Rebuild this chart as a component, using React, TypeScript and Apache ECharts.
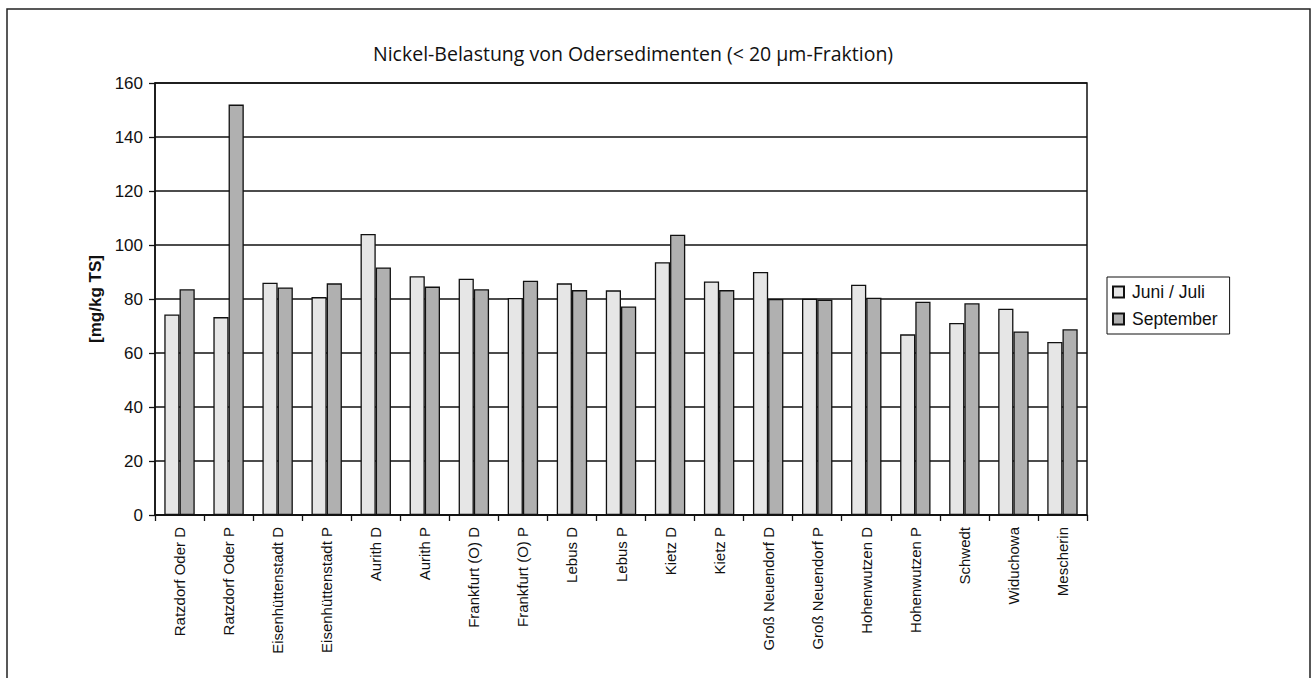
import React, { useEffect, useRef } from "react";
import * as echarts from "echarts";

const categories = [
  "Ratzdorf Oder D",
  "Ratzdorf Oder P",
  "Eisenhüttenstadt D",
  "Eisenhüttenstadt P",
  "Aurith D",
  "Aurith P",
  "Frankfurt (O) D",
  "Frankfurt (O) P",
  "Lebus D",
  "Lebus P",
  "Kietz D",
  "Kietz P",
  "Groß Neuendorf D",
  "Groß Neuendorf P",
  "Hohenwutzen D",
  "Hohenwutzen P",
  "Schwedt",
  "Widuchowa",
  "Mescherin",
];

const juniJuli = [74.3, 73.3, 86.0, 80.7, 104.1, 88.4, 87.5, 80.4, 85.8, 83.2, 93.6, 86.5, 90.0, 80.1, 85.3, 66.9, 71.1, 76.4, 64.1];
const september = [83.6, 152.0, 84.3, 85.8, 91.7, 84.6, 83.6, 86.8, 83.3, 77.2, 103.8, 83.3, 80.0, 79.7, 80.5, 79.0, 78.4, 68.0, 68.8];

const seriesNames = ["Juni / Juli", "September"];
const titleText = "Nickel-Belastung von Odersedimenten (< 20 µm-Fraktion)";
const yAxisName = "[mg/kg TS]";

export default function App() {
  const ref = useRef<HTMLDivElement>(null);

  useEffect(() => {
    if (!ref.current) return;
    const chart = echarts.init(ref.current, null, { renderer: "svg" });
    const barBorder = { borderColor: "#111", borderWidth: 1.3 };
    const sans = "'Liberation Sans', Arial, sans-serif";
    chart.setOption({
      animation: false,
      backgroundColor: "#fff",
      title: {
        text: titleText,
        left: 368,
        top: 38,
        textStyle: {
          fontFamily: "'Open Sans', Lato, sans-serif",
          fontSize: 19.5,
          fontWeight: 500,
          color: "#111",
        },
      },
      legend: {
        orient: "vertical",
        left: 1107,
        top: 277,
        itemWidth: 11,
        itemHeight: 11,
        itemGap: 9,
        padding: [6, 12, 6, 5],
        borderColor: "#111",
        borderWidth: 1,
        borderRadius: 0,
        icon: "rect",
        textStyle: {
          fontFamily: sans,
          fontSize: 17.5,
          color: "#111",
          padding: [0, 0, 0, 3],
        },
        data: seriesNames,
      },
      graphic: [
        {
          type: "rect",
          shape: { x: 7, y: 9, width: 1303, height: 700 },
          style: { fill: "none", stroke: "#222", lineWidth: 1.5 },
          silent: true,
        },
      ],
      grid: {
        left: 155,
        right: 226,
        top: 83,
        bottom: 163,
        show: true,
        borderColor: "#111",
        borderWidth: 1.5,
      },
      xAxis: {
        type: "category",
        data: categories,
        axisLine: { lineStyle: { color: "#111", width: 1.5 } },
        axisTick: { show: true, alignWithLabel: false, length: 6, lineStyle: { color: "#111", width: 1.3 } },
        axisLabel: {
          rotate: 90,
          interval: 0,
          margin: 12,
          fontFamily: sans,
          fontSize: 15,
          color: "#111",
        },
      },
      yAxis: {
        type: "value",
        min: 0,
        max: 160,
        interval: 20,
        name: yAxisName,
        nameLocation: "middle",
        nameGap: 42,
        nameTextStyle: {
          fontFamily: sans,
          fontSize: 17,
          fontWeight: "bold",
          color: "#111",
        },
        axisLine: { show: true, lineStyle: { color: "#111", width: 1.5 } },
        axisTick: { show: true, length: 6, lineStyle: { color: "#111", width: 1.3 } },
        axisLabel: {
          margin: 12,
          fontFamily: sans,
          fontSize: 17,
          color: "#111",
        },
        splitLine: { show: true, lineStyle: { color: "#111", width: 1.5 } },
      },
      series: [
        {
          name: seriesNames[0],
          type: "bar",
          data: juniJuli,
          barGap: "0%",
          barCategoryGap: "38%",
          itemStyle: { color: "#e6e6e6", ...barBorder },
        },
        {
          name: seriesNames[1],
          type: "bar",
          data: september,
          barGap: "0%",
          barCategoryGap: "38%",
          itemStyle: { color: "#b0b0b0", ...barBorder },
        },
      ],
    });
    return () => chart.dispose();
  }, []);

  return (
    <div
      ref={ref}
      style={{ position: "fixed", left: 0, top: 0, width: 1313, height: 678, background: "#fff" }}
    />
  );
}
